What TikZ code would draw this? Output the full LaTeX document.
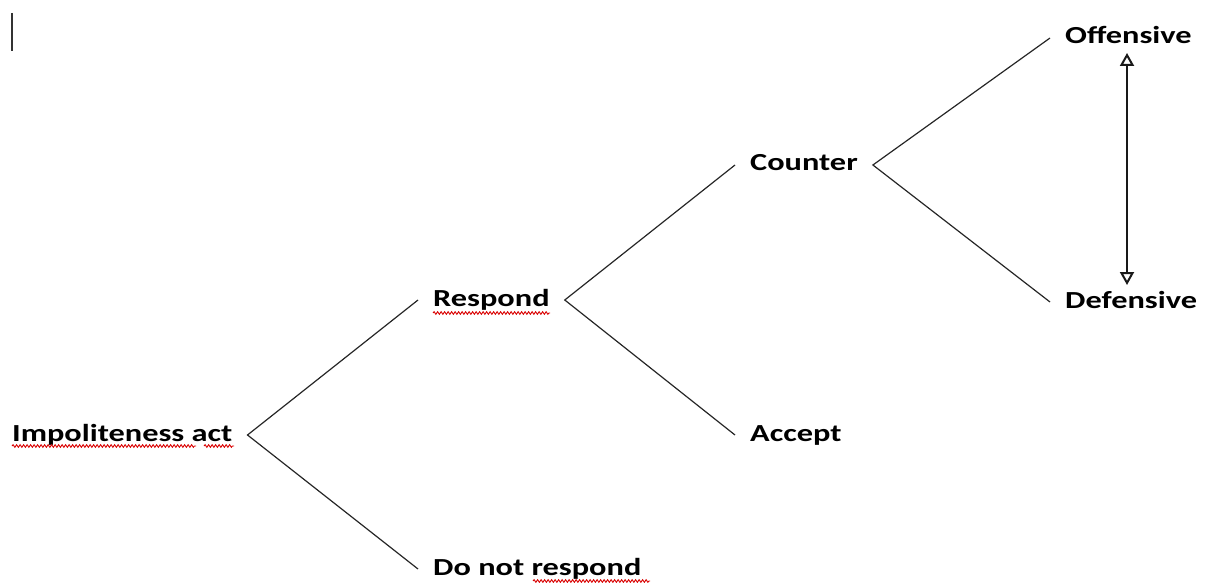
\documentclass[tikz,border=0pt]{standalone}
\usepackage{fontspec}
\setmainfont{Carlito}
\usepackage{graphicx}
\usetikzlibrary{arrows.meta,decorations.pathmorphing}
\newcommand{\wtext}[1]{\scalebox{1.32}[1]{#1}}
\tikzset{
  lbl/.style={anchor=base west, inner xsep=15pt, inner ysep=0pt,
    text height=12pt, text depth=0pt,
    font=\fontsize{24.5}{28}\selectfont\bfseries},
  branch/.style={draw=black!85, line width=1.2pt},
  dblarrow/.style={draw=black!90, line width=1.3pt,
    {Triangle[open,length=13pt,width=14pt,line width=2pt]}-{Triangle[open,length=13pt,width=14pt,line width=2pt]}},
  squiggle/.style={draw=red!85!black, line width=0.9pt,
    decorate, decoration={snake, segment length=3.5pt, amplitude=1.3pt}},
  cursorline/.style={draw=black!80, line width=2pt}
}
\begin{document}
\begin{tikzpicture}[x=1pt,y=-1pt]
\useasboundingbox (0,0) rectangle (1205,583);
% cursor
\coordinate (c1) at (12,13);
\coordinate (c2) at (12,51);
\draw[cursorline] (c1) -- (c2);
% nodes (base west anchor includes 15pt inner xsep)
\node[lbl] (imp) at (-3,441) {\wtext{Impoliteness act}};
\node[lbl] (resp) at (418,306) {\wtext{Respond}};
\node[lbl] (dnr) at (418,575) {\wtext{Do not respond}};
\node[lbl] (cnt) at (735,171) {\wtext{Counter}};
\node[lbl] (acc) at (735,441) {\wtext{Accept}};
\node[lbl] (off) at (1050,44) {\wtext{Offensive}};
\node[lbl] (def) at (1050,308) {\wtext{Defensive}};
% branches
\draw[branch] (resp.west) -- (imp.east) -- (dnr.west);
\draw[branch] (cnt.west) -- (resp.east) -- (acc.west);
\draw[branch] (off.west) -- (cnt.east) -- (def.west);
% double arrow
\draw[dblarrow] ([xshift=77pt,yshift=-9pt]off.base west) -- ([xshift=77pt,yshift=23pt]def.base west);
% spell-check squiggles
\coordinate (s1a) at (12,446); \coordinate (s1b) at (196,446);
\coordinate (s2a) at (204,446); \coordinate (s2b) at (234,446);
\coordinate (s3a) at (433,313); \coordinate (s3b) at (550,313);
\coordinate (s4a) at (533,581); \coordinate (s4b) at (650,581);
\draw[squiggle] (s1a) -- (s1b);
\draw[squiggle] (s2a) -- (s2b);
\draw[squiggle] (s3a) -- (s3b);
\draw[squiggle] (s4a) -- (s4b);
\end{tikzpicture}
\end{document}
